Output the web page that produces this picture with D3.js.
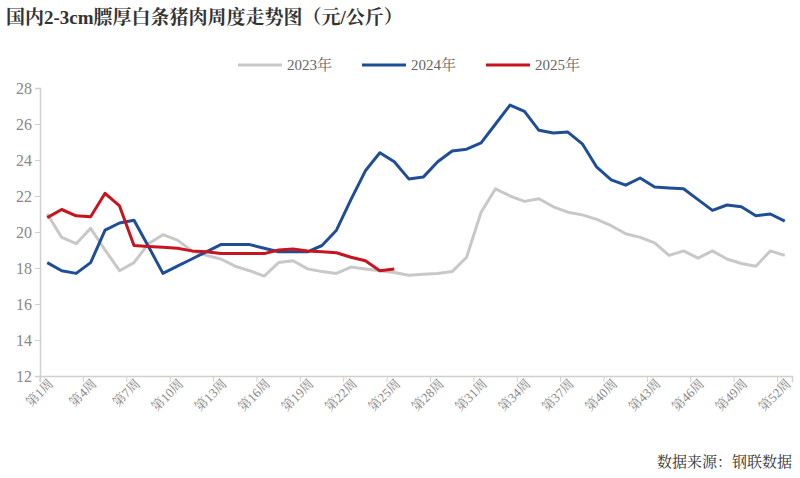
<!DOCTYPE html>
<html><head><meta charset="utf-8">
<script src="https://cdn.jsdelivr.net/npm/d3@7"></script>
<style>body{margin:0;background:#fff}</style>
</head><body><svg id="chart"></svg>
<script>
const weeks = d3.range(1, 53).map(i => "第" + i + "周");
const yTicks = [12, 14, 16, 18, 20, 22, 24, 26, 28];
const s2023 = [21.0,19.7,19.35,20.2,19.0,17.85,18.3,19.35,19.85,19.55,18.95,18.7,18.5,18.1,17.85,17.55,18.3,18.4,17.95,17.8,17.7,18.05,17.95,17.85,17.75,17.6,17.65,17.7,17.8,18.6,21.1,22.4,22.0,21.7,21.85,21.4,21.1,20.95,20.7,20.35,19.9,19.7,19.4,18.7,18.95,18.55,18.95,18.5,18.25,18.1,18.95,18.7];
const s2024 = [18.3,17.85,17.7,18.3,20.1,20.5,20.65,19.2,17.7,18.1,18.5,18.9,19.3,19.3,19.3,19.1,18.9,18.9,18.9,19.25,20.1,21.8,23.4,24.4,23.9,22.95,23.05,23.9,24.5,24.6,24.95,26.0,27.05,26.7,25.65,25.5,25.55,24.9,23.6,22.9,22.6,23.0,22.5,22.45,22.4,21.8,21.2,21.5,21.4,20.9,21.0,20.6];
const s2025 = [20.8,21.25,20.9,20.85,22.15,21.45,19.25,19.2,19.15,19.1,18.95,18.9,18.8,18.8,18.8,18.8,19.0,19.05,18.95,18.9,18.85,18.6,18.4,17.85,17.95];
const series = [
  { name: "2023年", values: s2023, color: "#c8c8c8" },
  { name: "2024年", values: s2024, color: "#1f4e96" },
  { name: "2025年", values: s2025, color: "#c8141e" }
];

const W = 800, H = 478;
const M = { left: 40, right: 8, top: 88, bottom: 102 };
const font = "'Liberation Serif','Noto Serif CJK SC','Noto Sans CJK SC',serif";

const svg = d3.select("#chart").attr("width", W).attr("height", H)
  .style("font-family", font);

const x = d3.scaleBand().domain(weeks).range([M.left, W - M.right]);
const y = d3.scaleLinear().domain([12, 28]).range([H - M.bottom, M.top]);

svg.append("text").attr("x", 6).attr("y", 24)
  .attr("font-size", 19).attr("font-weight", "bold").attr("fill", "#333")
  .text("国内2-3cm膘厚白条猪肉周度走势图（元/公斤）");

// y axis
const yAxis = svg.append("g").attr("transform", `translate(${M.left},0)`)
  .call(d3.axisLeft(y).tickValues(yTicks).tickSize(5).tickFormat(d3.format("d")));
yAxis.select(".domain").attr("stroke", "#d0d0d0").attr("stroke-width", 1.5);
yAxis.selectAll(".tick line").attr("stroke", "#d0d0d0");
yAxis.selectAll("text").attr("fill", "#888").attr("font-size", 16).attr("font-family", font);

// x axis
const xAxis = svg.append("g").attr("transform", `translate(0,${H - M.bottom})`)
  .call(d3.axisBottom(x).tickValues(weeks.filter((d, i) => i % 3 === 0)).tickSize(6));
xAxis.select(".domain").attr("stroke", "#d0d0d0").attr("stroke-width", 1.5);
xAxis.selectAll(".tick").attr("transform", d => `translate(${x(d)},0)`);
xAxis.selectAll(".tick line").attr("stroke", "#d0d0d0");
xAxis.selectAll("text").attr("fill", "#888").attr("font-size", 13).attr("font-family", font)
  .attr("text-anchor", "end").attr("dy", 0).attr("y", 16).attr("x", 4)
  .attr("transform", "rotate(-45)");

const line = d3.line()
  .x((d, i) => x(weeks[i]) + x.bandwidth() / 2)
  .y(d => y(d));

series.forEach(s => {
  svg.append("path").datum(s.values)
    .attr("fill", "none").attr("stroke", s.color).attr("stroke-width", 3)
    .attr("stroke-linejoin", "round").attr("d", line);
});

// legend
const lg = svg.append("g").attr("transform", "translate(238,65)");
series.forEach((s, i) => {
  const g = lg.append("g").attr("transform", `translate(${i * 124},0)`);
  g.append("line").attr("x1", 0).attr("x2", 44).attr("stroke", s.color).attr("stroke-width", 3);
  g.append("text").attr("x", 49).attr("y", 5).attr("font-size", 15).attr("fill", "#666").text(s.name);
});

svg.append("text").attr("x", 792).attr("y", 467).attr("text-anchor", "end")
  .attr("font-size", 15).attr("fill", "#333").text("数据来源：钢联数据");
</script></body></html>
